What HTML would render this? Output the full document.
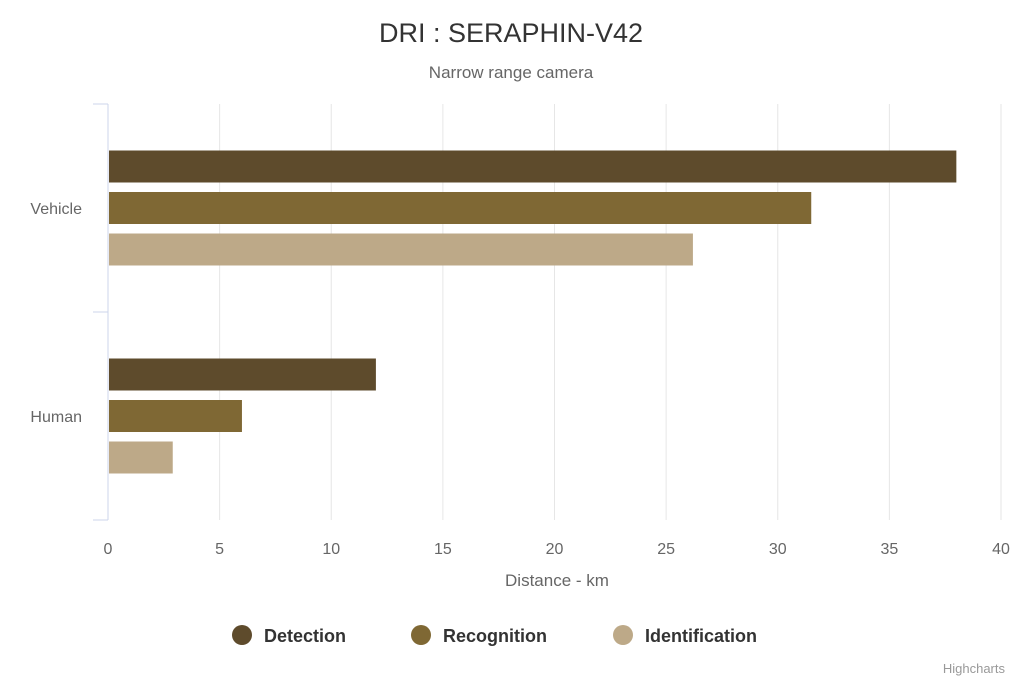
<!DOCTYPE html>
<html><head><meta charset="utf-8"><style>
html,body{margin:0;padding:0;background:#fff;}
svg{display:block;font-family:"Liberation Sans","DejaVu Sans",sans-serif;}
</style></head><body>
<svg id="chart" width="1024" height="683" viewBox="0 0 1024 683">
<text x="511" y="42" text-anchor="middle" font-size="27" fill="#333">DRI : SERAPHIN-V42</text>
<text x="511" y="78" text-anchor="middle" font-size="17" fill="#666">Narrow range camera</text>
<g id="grid"></g><g id="bars"></g><g id="axes"></g>
<text x="557" y="586" text-anchor="middle" font-size="17" fill="#666">Distance - km</text>
<g id="legend"></g>
<text x="1005" y="673" text-anchor="end" font-size="13" fill="#999">Highcharts</text>
</svg>
<script>
const categories = ["Vehicle","Human"];
const seriesNames = ["Detection","Recognition","Identification"];
const detection = [38, 12];
const recognition = [31.5, 6];
const identification = [26.2, 2.9];
const xTicks = [0,5,10,15,20,25,30,35,40];
const colors = ["#5e4b2c","#7f6834","#bda988"];
const series=[detection,recognition,identification];
const NS="http://www.w3.org/2000/svg";
const L=108,R=1001,T=104,B=520,xmax=40;
const x=v=>L+(v/xmax)*(R-L);
const band=(B-T)/categories.length;
function mk(tag,attrs,parent){const e=document.createElementNS(NS,tag);for(const k in attrs)e.setAttribute(k,attrs[k]);document.getElementById(parent).appendChild(e);return e;}
xTicks.forEach(t=>{
  const g=mk("line",{x1:x(t),x2:x(t),y1:T,y2:B,stroke:"#e6e6e6","stroke-width":1},"grid");
  
  
  const tx=mk("text",{x:x(t),y:554,"text-anchor":"middle","font-size":16,fill:"#666"},"axes");
  tx.textContent=t;
  
  
});
const ax=mk("line",{x1:L,x2:L,y1:T,y2:B,stroke:"#ccd6eb","stroke-width":1},"axes");


for(let i=0;i<=categories.length;i++){
  const tk=mk("line",{x1:93,x2:L,y1:T+i*band,y2:T+i*band,stroke:"#ccd6eb","stroke-width":1},"axes");
  
  
}
const bh=32,step=41.5;
categories.forEach((c,i)=>{
  const cy=T+band*(i+0.5);
  const lb=mk("text",{x:82,y:cy+6,"text-anchor":"end","font-size":16,fill:"#666"},"axes");
  lb.textContent=c;
  
  
  series.forEach((s,j)=>{
    const y=cy-bh/2+(j-1)*step;
    const r=mk("rect",{x:L+1,y:y,width:x(s[i])-L-1,height:bh,fill:colors[j]},"bars");
    
    
  });
});
const lx=[242,421,623];
seriesNames.forEach((n,j)=>{
  const g=mk("g",{},"legend");
  
  
  const c=document.createElementNS(NS,"circle");
  c.setAttribute("cx",lx[j]);c.setAttribute("cy",635);c.setAttribute("r",10);c.setAttribute("fill",colors[j]);
  
  
  g.appendChild(c);
  const t=document.createElementNS(NS,"text");
  t.setAttribute("x",lx[j]+22);t.setAttribute("y",642);t.setAttribute("font-size",18);t.setAttribute("font-weight","bold");t.setAttribute("fill","#333");
  t.textContent=n;
  
  
  g.appendChild(t);
});
</script>
</body></html>
